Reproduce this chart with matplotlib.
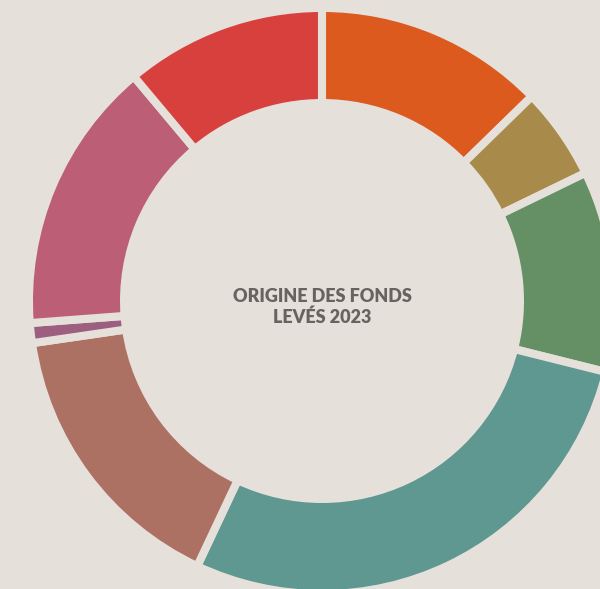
import matplotlib
matplotlib.use('Agg')
from matplotlib import pyplot

# Share of funds raised in 2023, by origin (percent, read clockwise from 12 o'clock)
origins = ['Source 1', 'Source 2', 'Source 3', 'Source 4',
           'Source 5', 'Source 6', 'Source 7', 'Source 8']
shares = [12.7, 5.1, 11.1, 28.1, 15.7, 1.1, 15.1, 11.1]
colors = ['#DC5A1E', '#A88A4B', '#659065', '#5E9890',
          '#AC7163', '#9C5F80', '#BB5E76', '#D8403E']
title = 'ORIGINE DES FONDS\nLEVÉS 2023'

BG = '#E6E0DB'


def main():
    fig = pyplot.figure(figsize=(6.0, 5.89), dpi=100, facecolor=BG)
    ax = fig.add_axes([0, 0, 1, 1])
    ax.set_facecolor(BG)

    ax.pie(
        shares,
        colors=colors,
        startangle=90,
        counterclock=False,
        radius=1.014,
        wedgeprops=dict(width=0.329, edgecolor=BG, linewidth=5.8),
    )

    # centre sits at (322, 301) px, visible radius ~289 px
    ax.set_xlim(-322 / 289, (600 - 322) / 289)
    ax.set_ylim(-288 / 289, (589 - 288) / 289)
    ax.set_aspect('auto')
    ax.axis('off')

    ax.text(0, -0.02, title, ha='center', va='center',
            fontsize=13, fontweight='heavy', family='Lato',
            color='#676361', linespacing=1.25)

    fig.savefig('out.png', dpi=100, facecolor=BG)


if __name__ == '__main__':
    main()
